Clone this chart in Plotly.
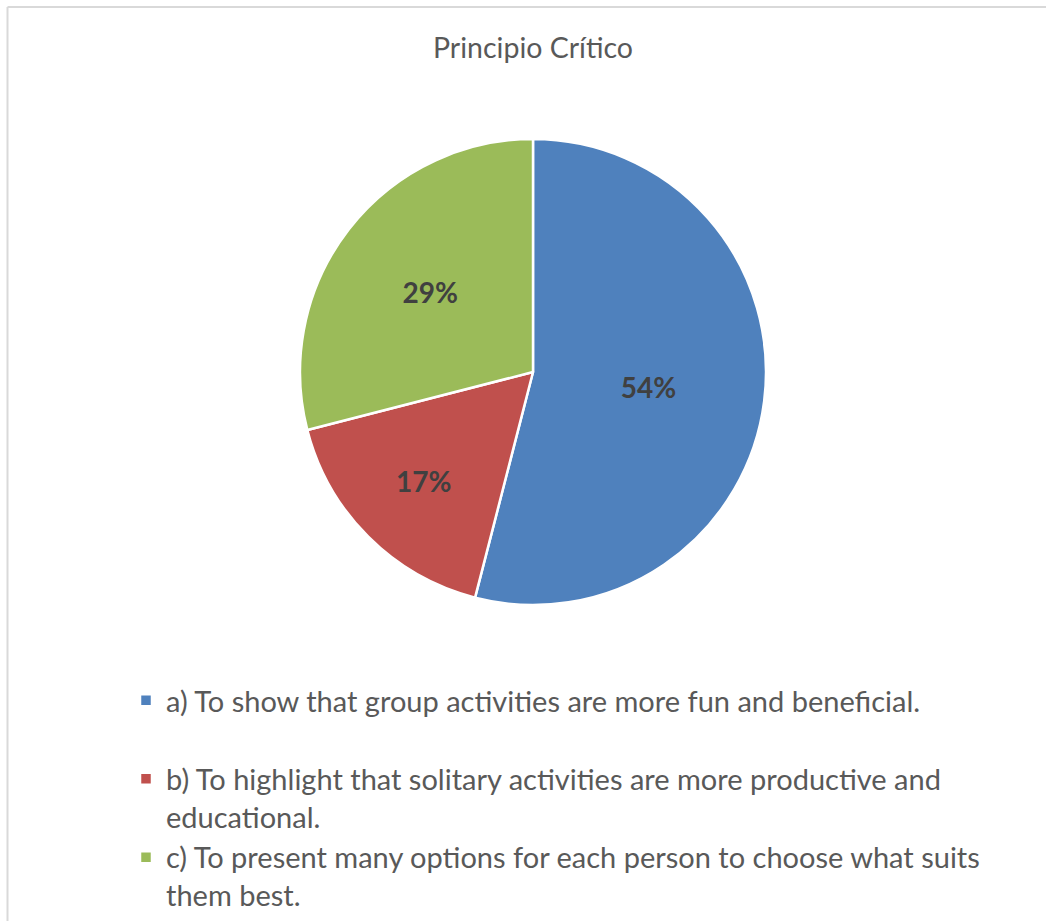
import plotly.graph_objects as go

title_text = "Principio Crítico"
categories = [
    "a) To show that group activities are more fun and beneficial.<br> ",
    "b) To highlight that solitary activities are more productive and<br>educational.",
    "c) To present many options for each person to choose what suits<br>them best.",
]
values = [54, 17, 29]
colors = ["#4F81BD", "#C0504D", "#9BBB59"]

W, H = 1046, 921
cx, cy, R = 533, 372, 233

fig = go.Figure(
    go.Pie(
        labels=categories,
        values=values,
        sort=False,
        direction="clockwise",
        rotation=0,
        marker=dict(colors=colors, line=dict(color="white", width=2.5)),
        textinfo="percent",
        texttemplate="%{percent:.0%}",
        textposition="inside",
        insidetextorientation="horizontal",
        textfont=dict(family="Lato", size=28, color="#404040", weight="bold"),
        hoverinfo="label+percent",
        domain=dict(x=[(cx - R) / W, (cx + R) / W], y=[1 - (cy + R) / H, 1 - (cy - R) / H]),
    )
)

fig.update_layout(
    width=W,
    height=H,
    margin=dict(l=0, r=0, t=0, b=0),
    paper_bgcolor="white",
    plot_bgcolor="white",
    title=dict(
        text=title_text,
        x=cx / W,
        xanchor="center",
        y=1 - 48 / H,
        yanchor="middle",
        font=dict(family="Lato", size=28.5, color="#595959"),
    ),
    showlegend=True,
    legend=dict(
        x=126 / W,
        xanchor="left",
        y=0,
        yanchor="bottom",
        valign="top",
        font=dict(family="Lato", size=29, color="#595959"),
        tracegroupgap=0,
        itemclick=False,
    ),
    shapes=[
        dict(type="line", xref="paper", yref="paper", x0=7.5 / W, x1=1.02, y0=1 - 7 / H, y1=1 - 7 / H,
             line=dict(color="#D9D9D9", width=2)),
        dict(type="line", xref="paper", yref="paper", x0=7.5 / W, x1=7.5 / W, y0=-0.02, y1=1 - 7 / H,
             line=dict(color="#D9D9D9", width=2)),
    ],
)

fig.write_html("out.html")
